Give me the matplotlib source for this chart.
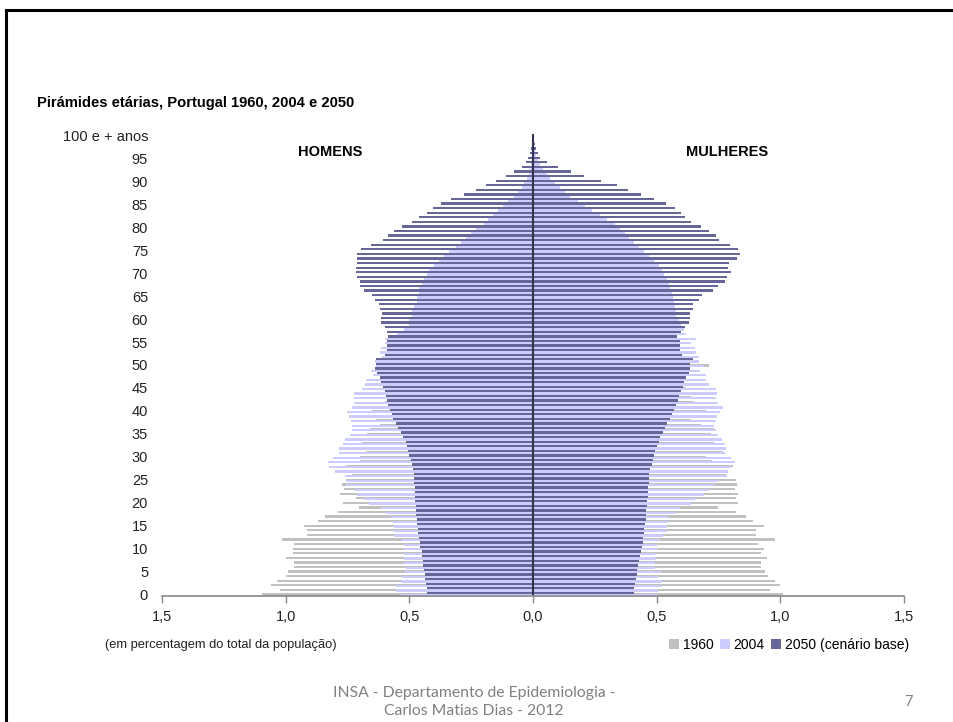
import numpy as np
import matplotlib.pyplot as plt
from matplotlib.lines import Line2D

plt.rcParams['font.family'] = ['Liberation Sans', 'DejaVu Sans']

ages = np.arange(101)

# men (HOMENS), % of total population, ages 0..100
men_1960 = [1.094, 1.023, 1.058, 1.034, 1.000, 0.990, 0.966, 0.966, 0.997, 0.970,
            0.970, 0.965, 1.016, 0.912, 0.912, 0.925, 0.870, 0.840, 0.787, 0.705,
            0.770, 0.716, 0.780, 0.763, 0.774, 0.757, 0.730, 0.730, 0.757, 0.700,
            0.700, 0.675, 0.700, 0.690, 0.680, 0.670, 0.660, 0.620, 0.635, 0.675,
            0.650, 0.620, 0.600, 0.580, 0.570, 0.560, 0.550, 0.540, 0.530, 0.520,
            0.520, 0.500, 0.490, 0.480, 0.470, 0.450, 0.440, 0.430, 0.420, 0.410,
            0.400, 0.380, 0.370, 0.350, 0.340, 0.330, 0.310, 0.300, 0.290, 0.280,
            0.270, 0.250, 0.240, 0.220, 0.210, 0.200, 0.180, 0.160, 0.150, 0.130,
            0.120, 0.100, 0.090, 0.080, 0.070, 0.060, 0.050, 0.040, 0.030, 0.025,
            0.020, 0.015, 0.010, 0.007, 0.005, 0.003, 0.002, 0.001, 0.001, 0.001,
            0.001]
men_2004 = [0.533, 0.554, 0.554, 0.533, 0.530, 0.520, 0.515, 0.520, 0.520, 0.520,
            0.520, 0.520, 0.530, 0.560, 0.560, 0.560, 0.567, 0.575, 0.594, 0.615,
            0.662, 0.682, 0.710, 0.723, 0.756, 0.750, 0.760, 0.800, 0.824, 0.830,
            0.810, 0.784, 0.784, 0.770, 0.760, 0.740, 0.730, 0.730, 0.735, 0.745,
            0.750, 0.730, 0.725, 0.725, 0.725, 0.690, 0.680, 0.675, 0.645, 0.655,
            0.635, 0.638, 0.610, 0.620, 0.615, 0.600, 0.600, 0.550, 0.520, 0.500,
            0.500, 0.490, 0.490, 0.480, 0.470, 0.470, 0.460, 0.460, 0.450, 0.440,
            0.430, 0.420, 0.400, 0.380, 0.360, 0.340, 0.310, 0.290, 0.270, 0.250,
            0.230, 0.200, 0.180, 0.160, 0.140, 0.120, 0.100, 0.075, 0.060, 0.045,
            0.035, 0.025, 0.018, 0.012, 0.008, 0.005, 0.003, 0.002, 0.001, 0.001,
            0.001]
men_2050 = [0.430, 0.430, 0.432, 0.435, 0.437, 0.440, 0.443, 0.445, 0.448, 0.450,
            0.455, 0.458, 0.460, 0.463, 0.465, 0.468, 0.470, 0.472, 0.473, 0.475,
            0.476, 0.477, 0.478, 0.479, 0.480, 0.481, 0.483, 0.485, 0.490, 0.495,
            0.500, 0.505, 0.510, 0.515, 0.525, 0.535, 0.545, 0.553, 0.565, 0.570,
            0.580, 0.585, 0.590, 0.595, 0.600, 0.608, 0.615, 0.620, 0.630, 0.637,
            0.635, 0.635, 0.600, 0.590, 0.590, 0.590, 0.585, 0.590, 0.597, 0.615,
            0.615, 0.610, 0.617, 0.624, 0.637, 0.650, 0.685, 0.700, 0.700, 0.713,
            0.715, 0.715, 0.710, 0.710, 0.713, 0.695, 0.655, 0.605, 0.585, 0.560,
            0.530, 0.490, 0.460, 0.430, 0.405, 0.370, 0.330, 0.280, 0.230, 0.190,
            0.148, 0.108, 0.075, 0.045, 0.030, 0.020, 0.012, 0.008, 0.005, 0.003,
            0.003]

# women (MULHERES)
women_1960 = [1.010, 0.960, 1.000, 0.980, 0.950, 0.940, 0.920, 0.920, 0.945, 0.920,
              0.935, 0.910, 0.980, 0.900, 0.900, 0.935, 0.890, 0.860, 0.820, 0.750,
              0.830, 0.820, 0.830, 0.815, 0.825, 0.820, 0.780, 0.790, 0.810, 0.725,
              0.700, 0.770, 0.750, 0.730, 0.720, 0.720, 0.730, 0.680, 0.640, 0.720,
              0.700, 0.660, 0.650, 0.640, 0.630, 0.620, 0.610, 0.610, 0.630, 0.620,
              0.710, 0.580, 0.570, 0.560, 0.550, 0.540, 0.520, 0.510, 0.500, 0.490,
              0.480, 0.460, 0.450, 0.430, 0.420, 0.410, 0.390, 0.370, 0.360, 0.340,
              0.330, 0.310, 0.290, 0.270, 0.250, 0.240, 0.220, 0.200, 0.180, 0.160,
              0.150, 0.130, 0.110, 0.100, 0.080, 0.070, 0.060, 0.050, 0.040, 0.030,
              0.025, 0.020, 0.015, 0.010, 0.008, 0.005, 0.004, 0.003, 0.002, 0.001,
              0.002]
women_2004 = [0.506, 0.506, 0.520, 0.520, 0.506, 0.520, 0.493, 0.493, 0.497, 0.493,
              0.500, 0.500, 0.513, 0.527, 0.540, 0.540, 0.546, 0.546, 0.574, 0.594,
              0.640, 0.660, 0.690, 0.710, 0.730, 0.750, 0.785, 0.790, 0.800, 0.815,
              0.800, 0.775, 0.780, 0.775, 0.765, 0.750, 0.740, 0.730, 0.740, 0.745,
              0.755, 0.770, 0.750, 0.740, 0.745, 0.740, 0.710, 0.700, 0.700, 0.675,
              0.690, 0.670, 0.670, 0.660, 0.655, 0.640, 0.660, 0.620, 0.610, 0.600,
              0.590, 0.580, 0.580, 0.575, 0.570, 0.565, 0.560, 0.555, 0.550, 0.540,
              0.530, 0.520, 0.510, 0.490, 0.470, 0.450, 0.430, 0.410, 0.390, 0.370,
              0.350, 0.330, 0.300, 0.270, 0.240, 0.210, 0.180, 0.150, 0.130, 0.110,
              0.090, 0.070, 0.055, 0.040, 0.030, 0.020, 0.014, 0.009, 0.006, 0.004,
              0.006]
women_2050 = [0.408, 0.410, 0.413, 0.415, 0.420, 0.422, 0.425, 0.430, 0.432, 0.435,
              0.440, 0.443, 0.444, 0.447, 0.450, 0.453, 0.455, 0.457, 0.458, 0.460,
              0.462, 0.464, 0.465, 0.465, 0.467, 0.470, 0.470, 0.475, 0.480, 0.485,
              0.490, 0.495, 0.500, 0.510, 0.515, 0.525, 0.535, 0.540, 0.555, 0.560,
              0.570, 0.577, 0.585, 0.590, 0.598, 0.605, 0.610, 0.620, 0.630, 0.635,
              0.635, 0.645, 0.603, 0.596, 0.596, 0.593, 0.583, 0.600, 0.616, 0.630,
              0.634, 0.635, 0.645, 0.647, 0.672, 0.684, 0.726, 0.746, 0.776, 0.786,
              0.800, 0.790, 0.793, 0.823, 0.837, 0.827, 0.796, 0.753, 0.740, 0.712,
              0.680, 0.640, 0.616, 0.600, 0.573, 0.537, 0.490, 0.435, 0.384, 0.340,
              0.276, 0.208, 0.154, 0.100, 0.057, 0.030, 0.020, 0.012, 0.008, 0.005,
              0.005]

years = ['1960', '2004', '2050 (cenário base)']
colors = ['#C0C0C0', '#CCCCFF', '#666699']
men = [men_1960, men_2004, men_2050]
women = [women_1960, women_2004, women_2050]

W, H = 954, 722
fig = plt.figure(figsize=(W / 100, H / 100), dpi=100)
ax = fig.add_axes([162 / W, 1 - 596.3 / H, 742 / W, (596.3 - 133.7) / H])

# overlapping bars: 1960 underneath, 2004 lower half, 2050 upper half of each age row
offsets = [-0.1, -0.25, 0.25]
for i in range(3):
    ax.barh(ages + offsets[i], -np.array(men[i]), height=0.5, color=colors[i],
            linewidth=0, label=years[i])
    ax.barh(ages + offsets[i], women[i], height=0.5, color=colors[i], linewidth=0)

ax.axvline(0, color='#33334d', lw=1.5)
ax.set_xlim(-1.5, 1.5)
ax.set_ylim(-0.5, 100.5)

xt = [-1.5, -1.0, -0.5, 0.0, 0.5, 1.0, 1.5]
ax.set_xticks(xt)
ax.set_xticklabels([('%.1f' % abs(v)).replace('.', ',') for v in xt])
yt = list(range(0, 100, 5)) + [100]
ax.set_yticks(yt)
ax.set_yticklabels([str(v) for v in yt[:-1]] + ['100 e + anos'])
ax.tick_params(axis='y', length=0, pad=10, labelsize=10.5, labelcolor='#222222')
ax.tick_params(axis='x', length=5, width=1, color='#888888', pad=5,
               labelsize=10.5, labelcolor='#222222')
for s in ['top', 'right', 'left']:
    ax.spines[s].set_visible(False)
ax.spines['bottom'].set_color('#888888')
ax.spines['bottom'].set_linewidth(1.2)

ax.text(-0.82, 96.5, 'HOMENS', fontsize=10.5, fontweight='bold', ha='center', va='center')
ax.text(0.785, 96.5, 'MULHERES', fontsize=10.5, fontweight='bold', ha='center', va='center')

fig.text(37 / W, 1 - 103 / H, 'Pirámides etárias, Portugal 1960, 2004 e 2050',
         fontsize=10.6, fontweight='bold', ha='left', va='center')
fig.text(105 / W, 1 - 645 / H, '(em percentagem do total da população)',
         fontsize=9.3, ha='left', va='center', color='#222222')

handles, labels = ax.get_legend_handles_labels()
fig.legend(handles, labels, loc='center right', bbox_to_anchor=(909 / W, 1 - 645 / H),
           ncol=3, frameon=False, fontsize=10, handlelength=0.75, handleheight=0.75,
           handletextpad=0.25, columnspacing=0.45, borderpad=0, borderaxespad=0)

fig.text(474 / W, 1 - 693 / H, 'INSA - Departamento de Epidemiologia -',
         fontsize=11.3, color='#808080', ha='center', va='center', family='Lato')
fig.text(474 / W, 1 - 711 / H, 'Carlos Matias Dias - 2012',
         fontsize=11.3, color='#808080', ha='center', va='center', family='Lato')
fig.text(909 / W, 1 - 702 / H, '7', fontsize=10.5, color='#808080',
         ha='center', va='center', family='Lato')

# slide frame
fig.add_artist(Line2D([6 / W, 1], [1 - 10 / H, 1 - 10 / H], color='black', lw=2.2))
fig.add_artist(Line2D([6 / W, 6 / W], [0, 1 - 10 / H], color='black', lw=2.2))

fig.savefig('out.png', dpi=100)
